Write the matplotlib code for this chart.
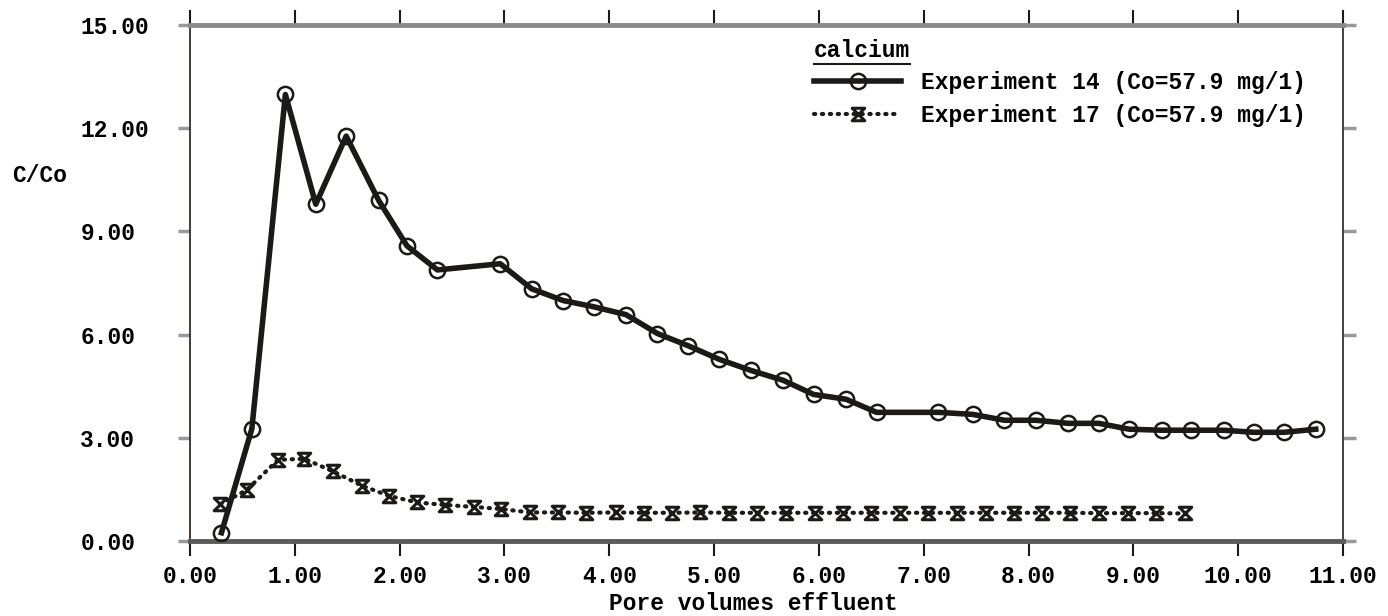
import numpy as np
import matplotlib.pyplot as plt
from matplotlib.path import Path
from matplotlib.lines import Line2D

# experiment 14, circles
x14 = [0.30, 0.59, 0.91, 1.20, 1.49, 1.80, 2.07, 2.36, 2.96, 3.26, 3.56, 3.85,
       4.16, 4.46, 4.75, 5.05, 5.35, 5.66, 5.95, 6.26, 6.55, 7.14, 7.47, 7.77,
       8.07, 8.38, 8.67, 8.96, 9.27, 9.55, 9.86, 10.15, 10.44, 10.74]
y14 = [0.24, 3.26, 12.98, 9.79, 11.77, 9.90, 8.58, 7.88, 8.06, 7.33, 6.99, 6.81,
       6.58, 6.03, 5.68, 5.28, 4.96, 4.67, 4.26, 4.12, 3.74, 3.74, 3.68, 3.51,
       3.51, 3.42, 3.42, 3.25, 3.22, 3.22, 3.22, 3.16, 3.16, 3.25]

# experiment 17, hourglass markers
x17 = [0.29, 0.54, 0.84, 1.09, 1.36, 1.64, 1.90, 2.17, 2.43, 2.71, 2.97, 3.24,
       3.51, 3.78, 4.06, 4.33, 4.60, 4.87, 5.14, 5.41, 5.69, 5.96, 6.23, 6.50,
       6.77, 7.04, 7.32, 7.59, 7.86, 8.13, 8.40, 8.67, 8.95, 9.22, 9.49]
y17 = [1.07, 1.48, 2.36, 2.39, 2.03, 1.61, 1.31, 1.12, 1.05, 0.99, 0.93, 0.83,
       0.83, 0.82, 0.83, 0.82, 0.82, 0.83, 0.82, 0.82, 0.82, 0.82, 0.82, 0.82,
       0.82, 0.82, 0.82, 0.82, 0.82, 0.82, 0.82, 0.81, 0.81, 0.81, 0.80]

xticks = [0, 1, 2, 3, 4, 5, 6, 7, 8, 9, 10, 11]
yticks = [0, 3, 6, 9, 12, 15]

label14 = 'Experiment 14 (Co=57.9 mg/1)'
label17 = 'Experiment 17 (Co=57.9 mg/1)'

plt.rcParams['font.family'] = ['Liberation Mono', 'DejaVu Sans Mono']
plt.rcParams['font.weight'] = 'bold'
ink = '#1c1a18'
fs = 16.5

hourglass = Path([(-1, 1), (1, 1), (-1, -1), (1, -1), (-1, 1)],
                 [Path.MOVETO, Path.LINETO, Path.LINETO, Path.LINETO, Path.CLOSEPOLY])

fig = plt.figure(figsize=(13.88, 6.16), dpi=100)
ax = fig.add_axes([190/1388, 75/616, (1343-190)/1388, (541-25)/616])

ax.plot(x14, y14, color=ink, lw=4.0, marker='o', ms=11, mfc='none',
        mec=ink, mew=1.8, solid_joinstyle='round', label=label14, zorder=3)
ax.plot(x17, y17, color=ink, lw=3.0, linestyle=(0, (0.3, 1.6)),
        dash_capstyle='round', marker=hourglass, ms=9, mfc='none', mec=ink,
        mew=2.2, label=label17, zorder=3)

ax.set_xlim(0, 11)
ax.set_ylim(0, 15)
ax.set_xticks(xticks)
ax.set_yticks(yticks)
ax.set_xticklabels([f'{v:.2f}' for v in xticks], fontsize=fs)
ax.set_yticklabels([f'{v:.2f}' for v in yticks], fontsize=fs)
for t in ax.get_yticklabels():
    t.set_horizontalalignment('left')

ax.tick_params(axis='x', direction='out', length=11, width=1.5, color=ink, pad=6)
ax.tick_params(axis='y', direction='out', length=9, width=2.5, color='#999999', pad=70)
ax.tick_params(axis='x', which='both', top=True)
ax.tick_params(axis='y', right=True)
for t in ax.yaxis.get_major_ticks():
    t.tick2line.set_color('#d4d4d4')

ax.spines['left'].set_color('#3a2c20')
ax.spines['left'].set_linewidth(1.3)
ax.spines['right'].set_color('#333333')
ax.spines['right'].set_linewidth(1.3)
ax.spines['top'].set_color('#8a8a8a')
ax.spines['top'].set_linewidth(3.5)
ax.spines['bottom'].set_color('#5a5a5a')
ax.spines['bottom'].set_linewidth(3.5)

fig.text(12/1388, 1 - 175/616, 'C/Co', fontsize=fs, va='center', ha='left')
fig.text(753/1388, 1 - 604/616, 'Pore volumes effluent', fontsize=fs, ha='center', va='center')

leg = ax.legend(loc='upper left', bbox_to_anchor=((805-190)/1153, 0.99), frameon=False,
                title='calcium', alignment='left', fontsize=fs, title_fontsize=fs,
                handlelength=3.8, handletextpad=0.85, labelspacing=0.4, borderaxespad=0)

fig.canvas.draw()
bb = leg.get_title().get_window_extent()
fig.add_artist(Line2D([bb.x0 / 1388, bb.x1 / 1388], [(bb.y0 - 2) / 616, (bb.y0 - 2) / 616],
                      color=ink, lw=1.5, transform=fig.transFigure))

fig.savefig('out.png', dpi=100)
